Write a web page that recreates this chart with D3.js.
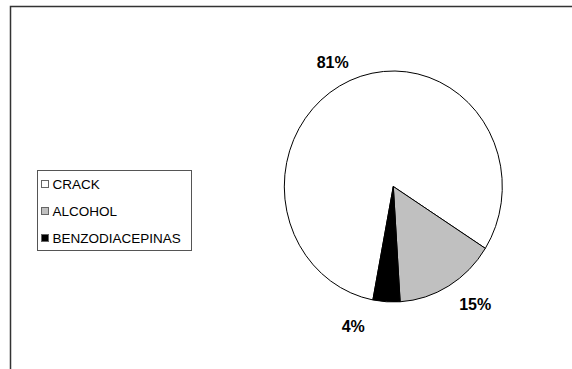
<!DOCTYPE html>
<html>
<head>
<meta charset="utf-8">
<script src="https://cdn.jsdelivr.net/npm/d3@7/dist/d3.min.js"></script>
<style>
  html, body { margin: 0; padding: 0; background: #fff; }
  svg { display: block; }
</style>
</head>
<body>
<svg id="chart" width="572" height="369"></svg>
<script>
// Data
const categories = ["CRACK", "ALCOHOL", "BENZODIACEPINAS"];
const values = [81, 15, 4];
const valueLabels = ["81%", "15%", "4%"];
const colors = ["#ffffff", "#c0c0c0", "#000000"];

const svg = d3.select("#chart");
const W = 572, H = 369;

// Outer chart frame (clipped at right and bottom)
svg.append("path")
  .attr("d", `M10.5,${H} L10.5,6.5 L${W},6.5`)
  .attr("fill", "none")
  .attr("stroke", "#333")
  .attr("stroke-width", 1.5);

// Pie geometry: slightly taller than wide
const cx = 393.3, cy = 186.5;
const rx = 109, ry = 115.5;
const startDeg = 190.8;
const a0 = startDeg * Math.PI / 180;

const pie = d3.pie().sort(null).value(d => d)
  .startAngle(a0).endAngle(a0 + 2 * Math.PI);
const arcs = pie(values);

const arc = d3.arc().innerRadius(0).outerRadius(ry);

const g = svg.append("g")
  .attr("transform", `translate(${cx},${cy}) scale(${rx / ry},1)`);

g.selectAll("path.slice")
  .data(arcs)
  .enter().append("path")
  .attr("class", "slice")
  .attr("d", arc)
  .attr("fill", (d, i) => colors[i])
  .attr("stroke", "#000")
  .attr("stroke-width", 1)
  .attr("vector-effect", "non-scaling-stroke")
  .attr("stroke-linejoin", "round");

// Percentage labels placed outside the pie, nudged per slice
const labelArc = d3.arc().innerRadius(ry * 1.17).outerRadius(ry * 1.17);
const labelNudge = [[-10, 0], [17, 2], [-32, 5]];
svg.selectAll("text.pct")
  .data(arcs)
  .enter().append("text")
  .attr("class", "pct")
  .attr("x", (d, i) => cx + labelArc.centroid(d)[0] * rx / ry + labelNudge[i][0])
  .attr("y", (d, i) => cy + labelArc.centroid(d)[1] + labelNudge[i][1])
  .attr("text-anchor", "middle")
  .attr("dominant-baseline", "central")
  .attr("font-family", "Liberation Sans, Arial, sans-serif")
  .attr("font-weight", "bold")
  .attr("font-size", 16)
  .attr("fill", "#000")
  .text((d, i) => valueLabels[i]);

// Legend
const lg = svg.append("g");
lg.append("rect")
  .attr("x", 37.5).attr("y", 170.5)
  .attr("width", 154).attr("height", 80)
  .attr("fill", "#fff")
  .attr("stroke", "#555")
  .attr("stroke-width", 1);

const legendY = d3.scalePoint().domain(categories).range([184, 238]);
const items = lg.selectAll("g.item")
  .data(categories)
  .enter().append("g")
  .attr("class", "item")
  .attr("transform", d => `translate(0,${legendY(d)})`);

items.append("rect")
  .attr("x", 41.5).attr("y", -3.5)
  .attr("width", 7).attr("height", 7)
  .attr("fill", (d, i) => colors[i])
  .attr("stroke", "#666")
  .attr("stroke-width", 1);

items.append("text")
  .attr("x", 52.5)
  .attr("y", 0.5)
  .attr("dominant-baseline", "central")
  .attr("font-family", "Liberation Sans, Arial, sans-serif")
  .attr("font-size", 13.5)
  .attr("fill", "#000")
  .text(d => d);
</script>
</body>
</html>
